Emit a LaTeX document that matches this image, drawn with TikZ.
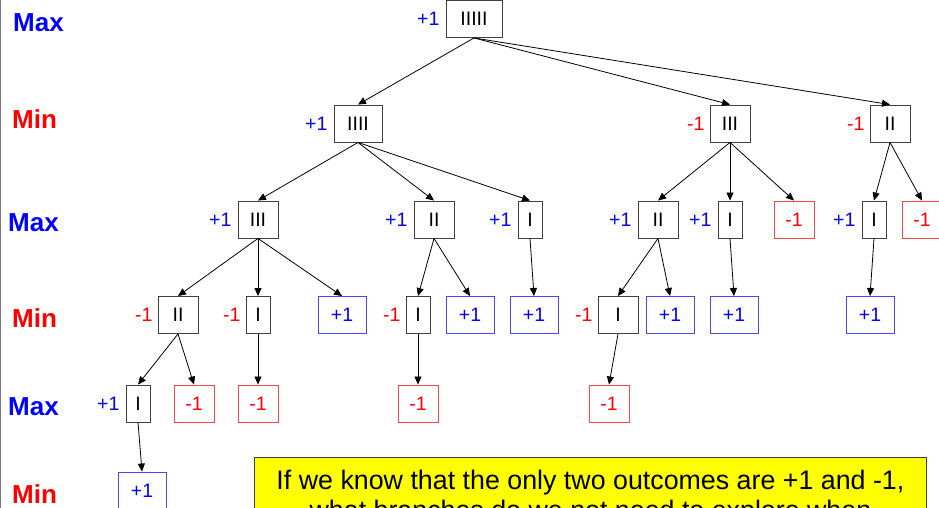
\documentclass[tikz,border=0pt]{standalone}
\usepackage{fontspec}
\setmainfont{Liberation Sans}
\usetikzlibrary{arrows.meta}
\definecolor{maxc}{HTML}{0000FF}
\definecolor{minc}{HTML}{FF0000}
\definecolor{winedge}{HTML}{4646FF}
\definecolor{lossedge}{HTML}{FF4646}
\definecolor{pilec}{HTML}{404040}
\definecolor{notec}{HTML}{FFFF00}
\tikzset{
  pile/.style={rectangle, draw=pilec, line width=0.9pt, minimum height=37pt,
    minimum width=#1, inner sep=0pt, font=\fontsize{19.5}{21}\selectfont},
  pile/.default=24pt,
  win/.style={pile=48pt, draw=winedge, text=maxc},
  loss/.style={pile=40pt, draw=lossedge, text=minc},
  upv/.style={label={[text=maxc, inner sep=0pt, label distance=6pt,
    font=\fontsize{19.5}{21}\selectfont]left:+1}},
  downv/.style={label={[text=minc, inner sep=0pt, label distance=5pt,
    font=\fontsize{19.5}{21}\selectfont]left:-1}},
  link/.style={-{Triangle[length=8pt,width=7pt]}, line width=0.8pt},
  turn/.style={font=\fontsize{26}{28}\selectfont\bfseries, inner sep=0pt, anchor=west},
}

\begin{document}
\begin{tikzpicture}[x=1pt, y=-1pt]
  \useasboundingbox (0,0) rectangle (939,508);
  \draw[pilec!70, line width=1pt] (0.5,0) -- (0.5,508);

  % whose turn it is on each level
  \node[turn, text=maxc] (t0) at (13,23) {Max};
  \node[turn, text=minc] (t1) at (12,119) {Min};
  \node[turn, text=maxc] (t2) at (8,223) {Max};
  \node[turn, text=minc] (t3) at (12,318) {Min};
  \node[turn, text=maxc] (t4) at (8,407) {Max};
  \node[turn, text=minc] (t5) at (12,494) {Min};

  % game tree, sticks left in each box
  \node[pile=56pt, upv] (r) at (474,19) {IIIII};

  \node[pile=48pt, upv] (r1) at (358,123.5) {IIII};
  \node[pile=40pt, downv] (r2) at (730,123.5) {III};
  \node[pile=40pt, downv] (r3) at (890,123.5) {II};

  \node[pile=40pt, upv] (r11) at (258,219.5) {III};
  \node[pile=40pt, upv] (r12) at (434,219.5) {II};
  \node[pile, upv] (r13) at (530,219.5) {I};
  \node[pile=40pt, upv] (r21) at (658,219.5) {II};
  \node[pile, upv] (r22) at (730,219.5) {I};
  \node[loss] (r23) at (794,219.5) {-1};
  \node[pile, upv] (r31) at (874,219.5) {I};
  \node[loss] (r32) at (922,219.5) {-1};

  \node[pile=40pt, downv] (r111) at (178,315) {II};
  \node[pile, downv] (r112) at (258,315) {I};
  \node[win] (r113) at (342,315) {+1};
  \node[pile, downv] (r121) at (418,315) {I};
  \node[win] (r122) at (470,315) {+1};
  \node[win] (r131) at (534,315) {+1};
  \node[pile=40pt, downv] (r211) at (618,315) {I};
  \node[win] (r212) at (670,315) {+1};
  \node[win] (r221) at (734,315) {+1};
  \node[win] (r311) at (870,315) {+1};

  \node[pile, upv] (r1111) at (138,403.5) {I};
  \node[loss] (r1112) at (194,403.5) {-1};
  \node[loss] (r1121) at (258,403.5) {-1};
  \node[loss] (r1211) at (418,403.5) {-1};
  \node[loss] (r2111) at (609,403.5) {-1};

  \node[win] (r11111) at (142,490.5) {+1};

  \foreach \p/\c in {r/r1, r/r2, r/r3, r1/r11, r1/r12, r1/r13, r2/r21, r2/r22,
      r2/r23, r3/r31, r3/r32, r11/r111, r11/r112, r11/r113, r12/r121, r12/r122,
      r13/r131, r21/r211, r21/r212, r22/r221, r31/r311, r111/r1111, r111/r1112,
      r112/r1121, r121/r1211, r211/r2111, r1111/r11111}
    \draw[link] (\p.south) -- (\c.north);

  \node[draw=pilec, line width=0.9pt, fill=notec, anchor=north west,
    minimum width=672pt, inner ysep=13pt, align=center,
    font=\fontsize{26.8}{30}\selectfont] (note) at (254,457)
    {If we know that the only two outcomes are +1 and -1,\\
     what branches do we not need to explore when};
\end{tikzpicture}
\end{document}
